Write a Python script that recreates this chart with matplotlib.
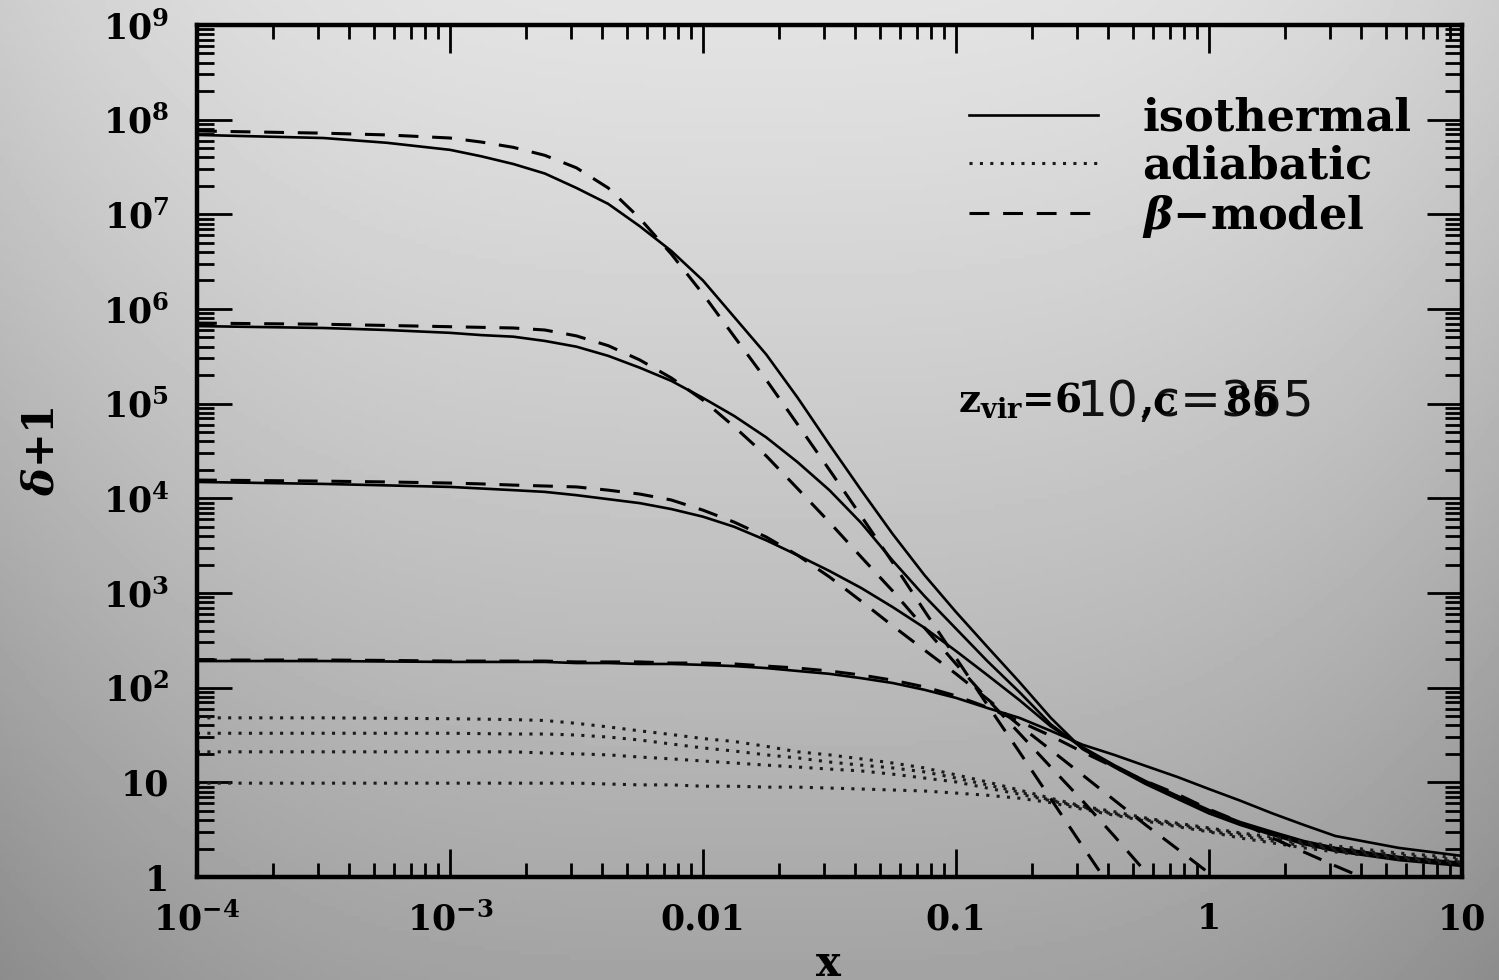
import numpy as np
import matplotlib.pyplot as plt
from matplotlib.lines import Line2D
from matplotlib.ticker import FixedLocator, FixedFormatter, LogLocator, NullFormatter

plt.rcParams['font.family'] = ['DejaVu Serif']
plt.rcParams['font.weight'] = 'bold'
plt.rcParams['mathtext.fontset'] = 'dejavuserif'
plt.rcParams['mathtext.default'] = 'bf'

# x = r / r_s ; read every 1/8 decade where the curves bend, coarser at the ends
x_grid = [1e-4, 3.16e-4, 5.62e-4, 1e-3, 1.33e-3, 1.78e-3, 2.37e-3, 3.16e-3, 4.22e-3, 5.62e-3,
          7.50e-3, 0.01, 0.0133, 0.0178, 0.0237, 0.0316, 0.0422, 0.0562, 0.0750, 0.1,
          0.133, 0.178, 0.237, 0.316, 0.422, 0.562, 0.750, 1.0, 1.33, 1.78,
          2.37, 3.16, 5.62, 10.0]

# isothermal (solid)
iso1 = [6.9e7, 6.4e7, 5.7e7, 4.8e7, 4.1e7, 3.4e7, 2.7e7, 1.9e7, 1.29e7, 7.5e6,
        4.1e6, 2.0e6, 8.2e5, 3.3e5, 1.15e5, 3.7e4, 1.22e4, 4.2e3, 1.55e3, 630,
        270, 115, 48, 22.5, 14.5, 9.6, 6.7, 4.7, 3.55, 2.78,
        2.23, 1.88, 1.51, 1.31]
iso2 = [6.6e5, 6.3e5, 6.0e5, 5.6e5, 5.3e5, 5.1e5, 4.6e5, 4.0e5, 3.2e5, 2.4e5,
        1.74e5, 1.15e5, 7.4e4, 4.4e4, 2.4e4, 1.22e4, 5.5e3, 2.2e3, 930, 420,
        191, 90, 41, 23, 14.9, 10.1, 7.0, 5.0, 3.7, 2.92,
        2.34, 1.98, 1.59, 1.37]
iso3 = [1.49e4, 1.42e4, 1.37e4, 1.32e4, 1.27e4, 1.22e4, 1.17e4, 1.08e4, 9.8e3, 8.9e3,
        7.7e3, 6.4e3, 5.0e3, 3.6e3, 2.5e3, 1.71e3, 1.13e3, 710, 430, 244,
        136, 74, 39, 23.6, 15.2, 10.3, 7.2, 5.1, 3.8, 3.0,
        2.40, 2.03, 1.63, 1.41]
iso4 = [191, 191, 189, 187, 187, 187, 187, 182, 182, 178,
        178, 174, 169, 161, 150, 140, 126, 112, 95, 78,
        61, 48, 35, 25, 19.5, 14.9, 11.4, 8.5, 6.4, 4.7,
        3.55, 2.71, 2.03, 1.67]

# adiabatic (dotted)
adi1 = [48, 48, 47.5, 47, 46.5, 46, 45, 42, 38.5, 35,
        32, 29, 27, 24, 21, 19.5, 17.7, 16.0, 14.2, 12.0,
        10.1, 8.3, 6.8, 5.6, 4.9, 4.2, 3.7, 3.3, 2.92, 2.65,
        2.34, 2.13, 1.79, 1.59]
adi2 = [33, 33, 33, 33, 32.7, 32.4, 32.4, 31.6, 30.1, 28.0,
        25.4, 23.1, 21.4, 19.5, 18.1, 16.4, 15.2, 14.2, 12.9, 11.1,
        9.4, 7.9, 6.5, 5.5, 4.7, 4.1, 3.6, 3.2, 2.84, 2.52,
        2.23, 2.03, 1.71, 1.51]
adi3 = [21, 21, 21, 21, 21, 21, 20.4, 20.0, 19.5, 18.5,
        17.7, 16.8, 16.0, 15.2, 14.5, 13.8, 13.2, 12.2, 11.1, 10.1,
        8.7, 7.5, 6.4, 5.4, 4.6, 4.0, 3.5, 3.06, 2.71, 2.40,
        2.13, 1.93, 1.63, 1.44]
adi4 = [9.8, 9.8, 9.8, 9.8, 9.8, 9.8, 9.8, 9.8, 9.6, 9.4,
        9.4, 9.1, 9.1, 8.9, 8.9, 8.7, 8.5, 8.3, 8.1, 7.7,
        7.3, 6.8, 6.1, 5.2, 4.5, 3.9, 3.4, 3.0, 2.58, 2.29,
        2.03, 1.84, 1.55, 1.37]

# beta-model (dashed); each one is read until it leaves the frame
beta1 = [7.6e7, 7.2e7, 6.9e7, 6.4e7, 5.8e7, 5.1e7, 4.2e7, 3.1e7, 1.9e7, 9.1e6,
         3.8e6, 1.44e6, 5.1e5, 1.78e5, 6.0e4, 2.0e4, 6.5e3, 2.1e3, 650, 206,
         66, 21, 6.7, 2.13, 0.68]
beta2 = [7.1e5, 6.9e5, 6.7e5, 6.5e5, 6.4e5, 6.3e5, 6.0e5, 5.2e5, 4.1e5, 2.9e5,
         1.87e5, 1.09e5, 5.7e4, 2.8e4, 1.26e4, 5.6e3, 2.4e3, 1.05e3, 430, 178,
         76, 33, 14.5, 6.4, 2.71, 1.13, 0.47]
beta3 = [1.56e4, 1.52e4, 1.49e4, 1.45e4, 1.42e4, 1.38e4, 1.35e4, 1.32e4, 1.22e4, 1.11e4,
         9.6e3, 7.5e3, 5.6e3, 3.9e3, 2.5e3, 1.48e3, 820, 450, 250, 140,
         76, 40, 22, 12.0, 6.5, 3.55, 1.98, 1.10, 0.62]
beta4 = [196, 196, 194, 191, 191, 191, 191, 187, 187, 187,
         182, 182, 178, 169, 161, 150, 136, 120, 102, 82,
         62, 44, 31, 21, 14.5, 10.3, 7.5, 5.2, 3.8, 2.58,
         1.84, 1.31, 0.68]

x_ticks = [1e-4, 1e-3, 1e-2, 1e-1, 1, 10]
x_tick_labels = [r'$10^{-4}$', r'$10^{-3}$', '0.01', '0.1', '1', '10']
y_ticks = [1, 10, 1e2, 1e3, 1e4, 1e5, 1e6, 1e7, 1e8, 1e9]
y_tick_labels = ['1', '10', r'$10^{2}$', r'$10^{3}$', r'$10^{4}$', r'$10^{5}$',
                 r'$10^{6}$', r'$10^{7}$', r'$10^{8}$', r'$10^{9}$']
legend_labels = ['isothermal', 'adiabatic', r'$\mathbfit{\beta}$' + '\u2212model']

SOLID = dict(color='black', lw=1.9, ls='-')
DOTTED = dict(color='#1a1a1a', lw=2.2, ls=(0, (1.0, 2.4)))
DASHED = dict(color='black', lw=2.2, ls=(0, (6.5, 4.5)))

fig = plt.figure(figsize=(14.99, 9.80), dpi=100)

# grey gradient backdrop
bg = fig.add_axes([0, 0, 1, 1], zorder=-1)
yy, xx = np.mgrid[0:1:200j, 0:1:300j]
shade = 0.89 - 0.25 * yy ** 1.15 - 0.09 * np.abs(2 * xx - 1) ** 3
bg.imshow(shade, cmap='gray', vmin=0, vmax=1, aspect='auto', extent=[0, 1, 0, 1])
bg.axis('off')

ax = fig.add_axes([0.1314, 0.1051, 0.8439, 0.8694])
ax.set_facecolor('none')
ax.set_xscale('log')
ax.set_yscale('log')

for ys in (iso1, iso2, iso3, iso4):
    ax.plot(x_grid, ys, **SOLID)
for ys in (adi1, adi2, adi3, adi4):
    ax.plot(x_grid, ys, **DOTTED)
for ys in (beta1, beta2, beta3, beta4):
    ax.plot(x_grid[:len(ys)], ys, **DASHED)

ax.set_xlim(1e-4, 10)
ax.set_ylim(1, 1e9)

ax.xaxis.set_major_locator(FixedLocator(x_ticks))
ax.xaxis.set_major_formatter(FixedFormatter(x_tick_labels))
ax.yaxis.set_major_locator(FixedLocator(y_ticks))
ax.yaxis.set_major_formatter(FixedFormatter(y_tick_labels))
for axis in (ax.xaxis, ax.yaxis):
    axis.set_minor_locator(LogLocator(base=10, subs=np.arange(2, 10), numticks=100))
    axis.set_minor_formatter(NullFormatter())

ax.tick_params(which='both', direction='in', top=True, right=True, width=2.0,
               labelsize=25, colors='black')
ax.tick_params(axis='x', which='major', length=20, pad=18)
ax.tick_params(axis='x', which='minor', length=10)
ax.tick_params(axis='y', which='major', length=25, pad=20)
ax.tick_params(axis='y', which='minor', length=12)
for sp in ax.spines.values():
    sp.set_linewidth(3.2)

ax.set_xlabel('x', fontsize=30, fontweight='bold')
ax.xaxis.set_label_coords(0.499, -0.078)
ax.set_ylabel(r'$\mathbfit{\delta}$+1', fontsize=30, fontweight='bold', va='center')
ax.yaxis.set_label_coords(-0.123, 0.50)

handles = [Line2D([], [], **SOLID), Line2D([], [], **DOTTED), Line2D([], [], **DASHED)]
ax.legend(handles, legend_labels, loc='upper right', bbox_to_anchor=(0.960, 0.9155),
          frameon=False, fontsize=32, handlelength=2.9, handletextpad=1.0,
          labelspacing=0.11, borderaxespad=0, borderpad=0)

# overlapping redshift / concentration labels
fig.text(958 / 1499, 1 - 412 / 980, r'z$_{vir}$=6', fontsize=28, fontweight='bold',
         ha='left', va='baseline')
fig.text(1077 / 1499, 1 - 416 / 980, '10,c=355', fontsize=35, fontweight='normal',
         family='DejaVu Sans', color='#111111', ha='left', va='baseline')
fig.text(1140 / 1499, 1 - 413 / 980, ',c', fontsize=27, fontweight='bold',
         ha='left', va='baseline')
fig.text(1226 / 1499, 1 - 414 / 980, '86', fontsize=27, fontweight='bold',
         ha='left', va='baseline')

fig.savefig('out.png', dpi=100)
